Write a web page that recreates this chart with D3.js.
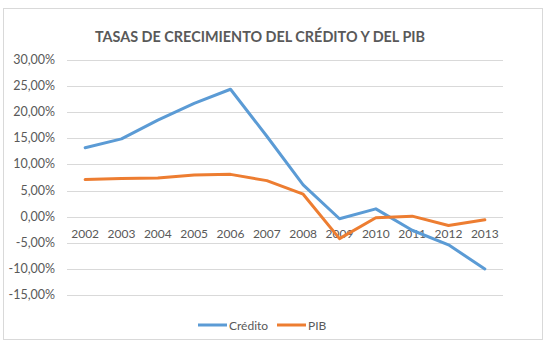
<!DOCTYPE html>
<html lang="es">
<head>
<meta charset="UTF-8">
<title>Tasas de crecimiento</title>
<script src="https://d3js.org/d3.v7.min.js"></script>
<style>
  body { margin: 0; background: #fff; font-family: Lato, "Open Sans", sans-serif; }
  svg { display: block; }
</style>
</head>
<body>
<svg width="546" height="344"></svg>
<script>
const years = ["2002","2003","2004","2005","2006","2007","2008","2009","2010","2011","2012","2013"];
const credito = [13.2, 14.9, 18.5, 21.7, 24.4, 15.4, 6.1, -0.4, 1.5, -2.6, -5.4, -10.0];
const pib = [7.1, 7.3, 7.4, 8.0, 8.1, 6.9, 4.3, -4.2, -0.2, 0.1, -1.7, -0.6];
const yTicks = [30, 25, 20, 15, 10, 5, 0, -5, -10, -15];

const svg = d3.select("svg");
const gray = "#595959";

// chart frame
svg.append("rect").attr("x", 3.5).attr("y", 8.5).attr("width", 539).attr("height", 331)
  .attr("fill", "#fff").attr("stroke", "#d9d9d9");

svg.append("text").attr("x", 260).attr("y", 42).attr("text-anchor", "middle")
  .attr("font-size", 14.4).attr("font-weight", "bold").attr("fill", gray)
  .text("TASAS DE CRECIMIENTO DEL CRÉDITO Y DEL PIB");

const x = d3.scaleBand().domain(years).range([67, 503]);
const y = d3.scaleLinear().domain([-15, 30]).range([295, 60]);

// gridlines + y labels
svg.append("g").selectAll("line").data(yTicks).join("line")
  .attr("x1", 67).attr("x2", 503)
  .attr("y1", d => Math.round(y(d)) + 0.5).attr("y2", d => Math.round(y(d)) + 0.5)
  .attr("stroke", "#d9d9d9");

const fmt = d => d3.format(".2f")(d).replace("−", "-").replace(".", ",") + "%";
svg.append("g").selectAll("text").data(yTicks).join("text")
  .attr("x", 55).attr("y", d => y(d) + 4)
  .attr("text-anchor", "end").attr("font-size", 12.5).attr("fill", gray)
  .text(fmt);

// x labels sit under the zero line
svg.append("g").selectAll("text").data(years).join("text")
  .attr("x", d => x(d) + x.bandwidth() / 2).attr("y", y(0) + 21)
  .attr("text-anchor", "middle").attr("font-size", 12).attr("fill", gray)
  .text(d => d);

const line = d3.line().x((d, i) => x(years[i]) + x.bandwidth() / 2).y(d => y(d));

const series = [
  { name: "Crédito", values: credito, color: "#5b9bd5" },
  { name: "PIB", values: pib, color: "#ed7d31" }
];

series.forEach(s => {
  svg.append("path").datum(s.values).attr("d", line)
    .attr("fill", "none").attr("stroke", s.color).attr("stroke-width", 3)
    .attr("stroke-linejoin", "round").attr("stroke-linecap", "round");
});

// legend
const legendX = [198, 277];
series.forEach((s, i) => {
  const g = svg.append("g").attr("transform", `translate(${legendX[i]},325)`);
  g.append("line").attr("x1", 0).attr("x2", 29).attr("stroke", s.color).attr("stroke-width", 3);
  g.append("text").attr("x", 31).attr("y", 4.5).attr("font-size", 12).attr("fill", gray).text(s.name);
});
</script>
</body>
</html>
